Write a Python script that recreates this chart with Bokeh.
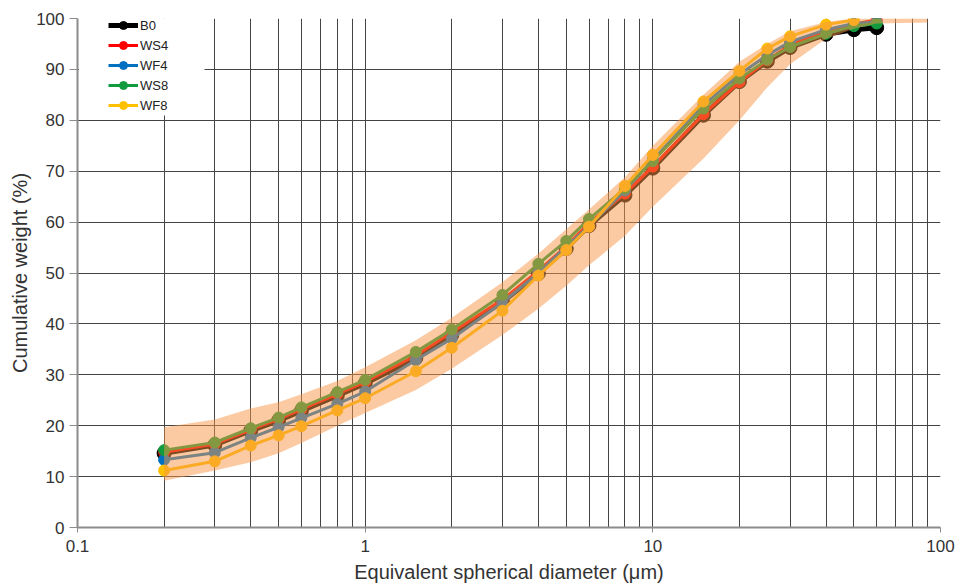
from bokeh.plotting import figure
from bokeh.models import FixedTicker, NumeralTickFormatter, Legend, LegendItem, BoxAnnotation
from bokeh.embed import file_html
from bokeh.resources import INLINE

# ---- data ----
diameter = [0.2, 0.3, 0.4, 0.5, 0.6, 0.8, 1, 1.5, 2, 3, 4, 5, 6, 8, 10, 15, 20, 25, 30, 40, 50, 60]
b0  = [14.6, 16.2, 19.0, 21.0, 22.9, 25.9, 28.3, 33.3, 37.8, 44.3, 49.9, 54.8, 59.3, 65.3, 70.6, 81.0, 87.6, 91.6, 94.3, 96.9, 97.8, 98.2]
ws4 = [14.8, 16.4, 19.2, 21.3, 23.2, 26.2, 28.6, 33.8, 38.3, 44.8, 50.4, 55.3, 59.8, 65.6, 70.9, 81.2, 87.5, 91.8, 94.8, 97.6, 98.9, 99.7]
wf4 = [13.3, 14.7, 17.6, 19.7, 21.5, 24.3, 26.7, 32.9, 37.1, 44.2, 50.0, 55.2, 59.2, 66.2, 72.2, 83.0, 89.0, 92.8, 95.4, 97.8, 99.0, 99.3]
ws8 = [15.2, 16.7, 19.5, 21.6, 23.6, 26.6, 29.0, 34.5, 38.9, 45.7, 51.8, 56.3, 60.6, 66.6, 72.0, 82.3, 88.2, 91.9, 94.4, 97.0, 98.5, 99.0]
diameter_wf8 = [0.2, 0.3, 0.4, 0.5, 0.6, 0.8, 1, 1.5, 2, 3, 4, 5, 6, 8, 10, 15, 20, 25, 30, 40, 50]
wf8 = [11.2, 13.0, 16.1, 18.1, 19.9, 23.0, 25.4, 30.7, 35.3, 42.6, 49.5, 54.5, 59.1, 67.1, 73.2, 83.7, 89.7, 94.1, 96.5, 98.8, 99.7]

band_diameter = [0.2, 0.3, 0.4, 0.5, 0.6, 0.8, 1, 1.5, 2, 3, 4, 5, 6, 8, 10, 15, 20, 25, 30, 40, 50, 60, 90]
band_lower = [9.2, 11.2, 12.8, 14.6, 16.6, 20.0, 22.5, 27.0, 31.2, 37.8, 43.0, 47.5, 51.5, 57.3, 63.0, 72.5, 80.0, 86.5, 91.0, 96.0, 98.0, 99.0, 99.2]
band_upper = [19.7, 21.2, 23.4, 24.6, 26.2, 28.8, 31.5, 36.8, 41.2, 48.2, 53.8, 58.6, 62.5, 68.8, 75.0, 85.0, 91.5, 95.0, 97.5, 99.3, 100, 100, 100]

series_labels = ["B0", "WS4", "WF4", "WS8", "WF8"]
x_major_ticks = [0.1, 1, 10, 100]
x_minor_ticks = [0.2, 0.3, 0.4, 0.5, 0.6, 0.7, 0.8, 0.9,
                 2, 3, 4, 5, 6, 7, 8, 9,
                 20, 30, 40, 50, 60, 70, 80, 90]
y_ticks = [0, 10, 20, 30, 40, 50, 60, 70, 80, 90, 100]

FONT = "Liberation Sans"

p = figure(width=959, height=585, x_axis_type="log",
           x_range=(0.1, 100), y_range=(0, 100),
           output_backend="svg", toolbar_location=None,
           min_border_left=77, min_border_right=19,
           min_border_top=18, min_border_bottom=55)
p.outline_line_color = None
p.background_fill_color = "white"
p.border_fill_color = "white"

# axes
p.xaxis.ticker = FixedTicker(ticks=x_major_ticks, minor_ticks=x_minor_ticks)
p.xaxis.formatter = NumeralTickFormatter(format="0.[0]")
p.yaxis.ticker = FixedTicker(ticks=y_ticks)
for ax in (p.xaxis[0], p.yaxis[0]):
    ax.axis_line_color = "#8c8c8c"
    ax.axis_line_width = 2
    ax.major_tick_line_color = "#8c8c8c"
    ax.major_tick_line_width = 1
    ax.major_tick_in = 0
    ax.minor_tick_line_color = None
    ax.major_label_text_font = FONT
    ax.major_label_text_font_size = "17px"
    ax.major_label_text_color = "#333333"
    ax.axis_label_text_font = FONT
    ax.axis_label_text_font_size = "20px"
    ax.axis_label_text_font_style = "normal"
    ax.axis_label_text_color = "#333333"
p.xaxis.major_tick_out = 5
p.yaxis.major_tick_out = 8
p.xaxis.major_label_standoff = 7
p.yaxis.major_label_standoff = 5
p.xaxis.axis_label = "Equivalent spherical diameter (\u03bcm)"
p.yaxis.axis_label = "Cumulative weight (%)"
p.xaxis.axis_label_standoff = 6
p.yaxis.axis_label_standoff = 2

# grid
p.xgrid.grid_line_color = "#444444"
p.xgrid.grid_line_width = 1
p.xgrid.minor_grid_line_color = "#444444"
p.xgrid.minor_grid_line_width = 1
p.ygrid.grid_line_color = "#444444"
p.ygrid.grid_line_width = 1

# series
specs = [
    (diameter, b0, "#000000", 5, 14),
    (diameter, ws4, "#FF0000", 3, 11),
    (diameter, wf4, "#0070C0", 3, 11),
    (diameter, ws8, "#119B3E", 3, 11),
    (diameter_wf8, wf8, "#FFC000", 3, 11),
]
items = []
for label, (xs, ys, col, lw, sz) in zip(series_labels, specs):
    lr = p.line(xs, ys, line_color=col, line_width=lw, line_join="round")
    sr = p.scatter(xs, ys, size=sz, fill_color=col, line_color=col)
    items.append(LegendItem(label=label, renderers=[lr, sr]))

# translucent range band over the curves
p.varea(x=band_diameter, y1=band_lower, y2=band_upper,
        fill_color="#F79646", fill_alpha=0.5)

# white backing of the legend (Excel style)
box = BoxAnnotation(left=1.5, left_units="screen", right=127, right_units="screen",
                    top=511, top_units="screen", bottom=412, bottom_units="screen",
                    fill_color="white", fill_alpha=1.0, line_color=None)
p.add_layout(box)

legend = Legend(items=items, location=(31, 412), padding=0, spacing=0, margin=0,
                glyph_width=30, glyph_height=20, label_height=20, label_standoff=2,
                label_text_font=FONT, label_text_font_size="13px",
                label_text_color="#222222",
                background_fill_alpha=0, border_line_color=None)
p.add_layout(legend)

open("out.html", "w").write(file_html(p, INLINE))
